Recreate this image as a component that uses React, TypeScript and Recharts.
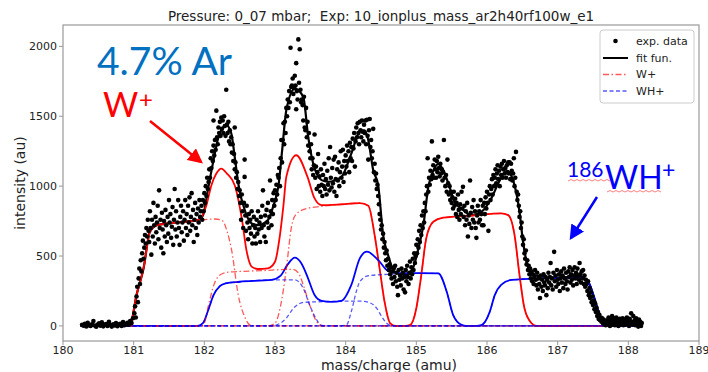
import React from "react";
import {
    ComposedChart, Line, Scatter, XAxis, YAxis,
} from "recharts";

// ---- axis ticks ----
const xTicks = [180, 181, 182, 183, 184, 185, 186, 187, 188, 189];
const yTicks = [0, 500, 1000, 1500, 2000];

// ---- exp. data ([mass, intensity]) ----
const expBaseline = [
    [180.27, 8], [180.29, 2], [180.31, 15], [180.33, -4], [180.35, 22], [180.37, 5], [180.39, 0], [180.41, 12],
    [180.43, 35], [180.45, 3], [180.47, -6], [180.49, 10], [180.51, 18], [180.53, 2], [180.55, 25], [180.57, -3],
    [180.59, 8], [180.61, 14], [180.63, 0], [180.65, 30], [180.67, 6], [180.69, -5], [180.71, 12], [180.73, 3],
    [180.75, 20], [180.77, -2], [180.79, 9], [180.81, 15], [180.83, 0], [180.85, 28], [180.87, 5], [180.89, 12],
    [180.91, 22], [180.93, 8], [180.95, 35], [180.97, 20], [180.99, 55],
];
const expRise = [
    [181.01, 90], [181.02, 140], [181.03, 60], [181.04, 210], [181.05, 280], [181.06, 170], [181.07, 340],
    [181.08, 410], [181.09, 300], [181.1, 470], [181.11, 390], [181.12, 520], [181.13, 610], [181.14, 480],
    [181.15, 560], [181.16, 650], [181.17, 590], [181.18, 700], [181.19, 640], [181.2, 760], [181.21, 680],
];
const expPlateau = [
    [181.22, 600], [181.23, 820], [181.24, 700], [181.25, 510], [181.26, 760], [181.27, 640], [181.28, 880],
    [181.29, 720], [181.3, 590], [181.31, 780], [181.32, 670], [181.33, 740], [181.34, 860], [181.35, 620],
    [181.36, 970], [181.37, 700], [181.38, 760], [181.39, 560], [181.4, 810], [181.41, 690], [181.42, 520],
    [181.43, 750], [181.44, 640], [181.45, 830], [181.46, 720], [181.47, 600], [181.48, 780], [181.49, 660],
    [181.5, 900], [181.51, 740], [181.52, 800], [181.53, 630], [181.54, 710], [181.55, 850], [181.56, 580],
    [181.57, 760], [181.58, 980], [181.59, 690], [181.6, 820], [181.61, 640], [181.62, 740], [181.63, 900],
    [181.64, 700], [181.65, 580], [181.66, 780], [181.67, 860], [181.68, 670], [181.69, 740], [181.7, 820],
    [181.71, 610], [181.72, 760], [181.73, 900], [181.74, 700], [181.75, 800], [181.76, 650], [181.77, 860],
    [181.78, 740], [181.79, 920], [181.8, 680], [181.81, 780], [181.82, 950], [181.83, 720], [181.84, 830],
    [181.85, 600], [181.86, 760], [181.87, 880], [181.88, 700], [181.89, 800], [181.9, 650], [181.91, 840],
    [181.92, 740], [181.93, 900], [181.94, 780], [181.95, 820],
];
const expPeak182 = [
    [181.96, 860], [181.97, 760], [181.98, 900], [181.99, 820], [182.0, 950], [182.01, 880], [182.02, 1000],
    [182.03, 930], [182.04, 1060], [182.05, 980], [182.06, 1030], [182.07, 1120], [182.08, 1060], [182.09, 1200],
    [182.1, 1130], [182.11, 1250], [182.12, 1180], [182.13, 1290], [182.13, 1470], [182.14, 1220], [182.15, 1330],
    [182.16, 1260], [182.17, 1540], [182.18, 1350], [182.19, 1300], [182.2, 1420], [182.21, 1380], [182.22, 1460],
    [182.23, 1360], [182.24, 1490], [182.25, 1410], [182.26, 1470], [182.27, 1380], [182.28, 1500], [182.29, 1430],
    [182.3, 1360], [182.31, 1690], [182.32, 1440], [182.33, 1380], [182.34, 1460], [182.35, 1320], [182.36, 1400],
    [182.37, 1300], [182.38, 1350], [182.39, 1240], [182.4, 1300], [182.41, 1180], [182.42, 1230], [182.43, 1420],
    [182.43, 1120], [182.44, 1170], [182.45, 1060], [182.46, 1100], [182.47, 980], [182.48, 1030], [182.49, 930],
    [182.5, 970],
];
const expValley1 = [
    [182.51, 880], [182.52, 760], [182.53, 940], [182.54, 820], [182.55, 700], [182.56, 880], [182.57, 1190],
    [182.57, 1066], [182.58, 790], [182.59, 680], [182.6, 860], [182.61, 740], [182.62, 620], [182.63, 800],
    [182.64, 700], [182.65, 760], [182.66, 660], [182.67, 820], [182.68, 590], [182.69, 720], [182.7, 780],
    [182.71, 640], [182.72, 700], [182.73, 590], [182.74, 760], [182.75, 660], [182.76, 820], [182.77, 690],
    [182.78, 740], [182.79, 600], [182.8, 780], [182.81, 700], [182.82, 860], [182.83, 970], [182.84, 720],
    [182.85, 640], [182.86, 790], [182.87, 600], [182.88, 830], [182.89, 740], [182.9, 880], [182.91, 700],
    [182.92, 780], [182.93, 1040], [182.94, 820], [182.95, 720], [182.96, 900], [182.97, 800], [182.98, 950],
    [182.99, 860], [183.0, 970], [183.01, 900], [183.02, 1010], [183.03, 940], [183.04, 1080],
];
const expPeak183 = [
    [183.05, 1060], [183.06, 1130], [183.07, 1000], [183.08, 1200], [183.09, 1330], [183.1, 1170], [183.11, 1330],
    [183.12, 1450], [183.13, 1300], [183.14, 1460], [183.15, 1380], [183.16, 1560], [183.17, 1500], [183.18, 1620],
    [183.19, 1560], [183.2, 1680], [183.21, 1600], [183.22, 1990], [183.23, 1710], [183.24, 1720], [183.25, 1770],
    [183.26, 1660], [183.27, 1700], [183.28, 1790], [183.29, 1720], [183.3, 1880], [183.3, 1550], [183.31, 1680],
    [183.32, 1620], [183.33, 2050], [183.34, 1740], [183.35, 1980], [183.36, 1690], [183.37, 1600], [183.38, 1620],
    [183.39, 1580], [183.4, 1470], [183.41, 1640], [183.42, 1420], [183.43, 1400], [183.44, 1560], [183.45, 1350],
    [183.46, 1460], [183.47, 1290], [183.48, 1380], [183.49, 1250], [183.5, 1200], [183.51, 1300], [183.52, 1120],
    [183.53, 1200], [183.54, 1080], [183.55, 1150],
];
const expValley2 = [
    [183.56, 1370], [183.57, 1060], [183.58, 1140], [183.59, 980], [183.6, 1100], [183.61, 1230], [183.62, 1000],
    [183.63, 1070], [183.64, 960], [183.65, 1120], [183.66, 1010], [183.67, 930], [183.68, 1080], [183.69, 1000],
    [183.7, 1160], [183.71, 980], [183.72, 1050], [183.73, 940], [183.74, 1110], [183.75, 1010], [183.76, 1200],
    [183.77, 970], [183.78, 1280], [183.79, 1060], [183.8, 990], [183.81, 1130], [183.82, 1020], [183.83, 1190],
    [183.84, 960], [183.85, 1210], [183.86, 1050], [183.87, 930], [183.88, 1120], [183.89, 1040], [183.9, 1170],
    [183.91, 1000], [183.92, 1100], [183.93, 1250], [183.94, 1060], [183.95, 1140], [183.96, 1260], [183.97, 1030],
    [183.98, 1180], [183.99, 1090], [184.0, 1220], [184.01, 1140], [184.02, 1290], [184.03, 1180], [184.04, 1250],
    [184.05, 1100], [184.06, 1310], [184.07, 1200], [184.08, 1280], [184.09, 1180], [184.1, 1340],
];
const expPeak184 = [
    [184.11, 1270], [184.12, 1380], [184.13, 1140], [184.14, 1320], [184.15, 1420], [184.16, 1350], [184.17, 1450],
    [184.18, 1380], [184.19, 1300], [184.2, 1460], [184.21, 1400], [184.22, 1350], [184.23, 1470], [184.24, 1390],
    [184.25, 1320], [184.26, 1440], [184.27, 1380], [184.28, 1470], [184.29, 1300], [184.3, 1475], [184.31, 1360],
    [184.32, 1190], [184.33, 1400], [184.34, 1480], [184.35, 1280], [184.36, 1330], [184.37, 1200], [184.38, 1250],
    [184.39, 1410], [184.4, 1100], [184.41, 1160], [184.42, 1040], [184.43, 1090], [184.44, 980], [184.45, 1010],
];
const expValley3 = [
    [184.46, 930], [184.47, 870], [184.48, 800], [184.49, 760], [184.5, 690], [184.51, 720], [184.52, 620],
    [184.53, 660], [184.54, 560], [184.55, 600], [184.56, 520], [184.57, 470], [184.58, 540], [184.59, 430],
    [184.6, 480], [184.61, 400], [184.62, 440], [184.63, 370], [184.64, 420], [184.65, 340], [184.66, 390],
    [184.67, 300], [184.68, 410], [184.69, 350], [184.7, 430], [184.71, 320], [184.72, 380], [184.73, 280],
    [184.74, 220], [184.75, 400], [184.76, 330], [184.77, 360], [184.78, 290], [184.79, 410], [184.8, 340],
    [184.81, 380], [184.82, 260], [184.83, 350], [184.84, 240], [184.85, 400], [184.86, 320], [184.87, 430],
    [184.88, 350], [184.89, 300], [184.9, 380], [184.91, 460], [184.92, 340], [184.93, 420], [184.94, 370],
    [184.95, 480], [184.96, 400], [184.97, 520], [184.98, 450], [184.99, 500],
];
const expPeak185 = [
    [185.0, 580], [185.01, 520], [185.02, 620], [185.03, 560], [185.04, 680], [185.05, 600], [185.06, 720],
    [185.07, 650], [185.08, 790], [185.09, 700], [185.1, 820], [185.11, 740], [185.12, 880], [185.13, 820],
    [185.14, 940], [185.15, 1000], [185.16, 1200], [185.17, 960], [185.18, 1060], [185.19, 1010], [185.2, 1110],
    [185.21, 1050], [185.22, 1320], [185.23, 1080], [185.24, 1150], [185.25, 1060], [185.26, 1190], [185.27, 1120],
    [185.28, 1060], [185.29, 1180], [185.3, 1100], [185.31, 1210], [185.32, 1130], [185.33, 1070], [185.34, 1160],
    [185.35, 1090], [185.36, 1120], [185.37, 1040], [185.38, 1100], [185.39, 1330], [185.4, 1060], [185.41, 1000],
    [185.42, 1080], [185.43, 960], [185.44, 1190], [185.45, 1020], [185.46, 940], [185.47, 1000], [185.48, 900],
    [185.49, 960], [185.5, 880],
];
const expValley4 = [
    [185.51, 920], [185.52, 840], [185.53, 960], [185.54, 860], [185.55, 910], [185.56, 800], [185.57, 880],
    [185.58, 780], [185.59, 940], [185.6, 830], [185.61, 760], [185.62, 870], [185.63, 800], [185.64, 960],
    [185.65, 840], [185.66, 995], [185.67, 780], [185.68, 860], [185.69, 720], [185.7, 820], [185.71, 760],
    [185.72, 880], [185.73, 640], [185.74, 790], [185.75, 730], [185.76, 1040], [185.77, 810], [185.78, 700],
    [185.79, 850], [185.8, 760], [185.81, 900], [185.82, 740], [185.83, 820], [185.84, 700], [185.85, 630],
    [185.86, 790], [185.87, 860], [185.88, 740], [185.89, 820], [185.9, 760], [185.91, 900], [185.92, 800],
    [185.93, 720], [185.94, 860], [185.95, 720], [185.96, 880], [185.97, 800], [185.98, 920], [185.99, 840],
    [186.0, 960], [186.01, 880], [186.02, 680], [186.03, 940], [186.04, 1000], [186.05, 900], [186.06, 980],
    [186.07, 1050], [186.08, 940], [186.09, 1080], [186.1, 1000],
];
const expPeak186 = [
    [186.11, 1060], [186.12, 1120], [186.13, 1020], [186.14, 1090], [186.15, 1150], [186.16, 1050], [186.17, 1110],
    [186.18, 1000], [186.19, 1140], [186.2, 1080], [186.21, 1160], [186.22, 1060], [186.23, 1120], [186.24, 1180],
    [186.25, 1090], [186.26, 1130], [186.27, 1060], [186.28, 1150], [186.29, 1100], [186.3, 1170], [186.31, 1090],
    [186.32, 1170], [186.33, 1050], [186.34, 1160], [186.35, 1110], [186.36, 1040], [186.37, 1090], [186.38, 1200],
    [186.39, 1000], [186.4, 1060], [186.41, 1245], [186.42, 960], [186.43, 900], [186.44, 940],
    [186.45, 860], [186.46, 780], [186.47, 820], [186.48, 700], [186.49, 740], [186.5, 640], [186.51, 580],
    [186.52, 620], [186.53, 520], [186.54, 480], [186.55, 540], [186.56, 440], [186.57, 470], [186.58, 400],
    [186.59, 430], [186.6, 370], [186.61, 410], [186.62, 340], [186.63, 390], [186.64, 320], [186.65, 370],
    [186.66, 300], [186.67, 350], [186.68, 400], [186.69, 330], [186.7, 290],
];
const expWH186 = [
    [186.71, 380], [186.72, 260], [186.73, 340], [186.74, 300], [186.75, 200], [186.76, 360], [186.77, 280],
    [186.78, 330], [186.79, 250], [186.8, 370], [186.81, 310], [186.82, 290], [186.83, 350], [186.84, 220],
    [186.85, 330], [186.86, 270], [186.87, 380], [186.88, 310], [186.89, 350], [186.9, 450], [186.91, 290],
    [186.92, 340], [186.93, 260], [186.94, 380], [186.95, 530], [186.96, 320], [186.97, 360], [186.98, 280],
    [186.99, 400], [187.0, 330], [187.01, 300], [187.02, 370], [187.03, 250], [187.04, 340], [187.05, 390],
    [187.06, 310], [187.07, 360], [187.08, 270], [187.09, 410], [187.1, 340], [187.11, 300], [187.12, 380],
    [187.13, 320], [187.14, 260], [187.15, 390], [187.16, 350], [187.17, 420], [187.18, 310], [187.19, 370],
    [187.2, 330], [187.21, 400], [187.22, 290], [187.23, 360], [187.24, 420], [187.25, 340], [187.26, 380],
    [187.27, 300], [187.28, 410], [187.29, 360], [187.3, 330], [187.31, 450], [187.32, 370], [187.33, 310],
    [187.34, 390], [187.35, 340], [187.36, 400], [187.37, 300], [187.38, 360], [187.39, 280], [187.4, 330],
    [187.41, 300], [187.42, 250], [187.43, 320], [187.44, 220], [187.45, 270], [187.46, 200], [187.47, 240],
    [187.48, 170], [187.49, 210], [187.5, 150], [187.51, 180], [187.52, 120], [187.53, 160], [187.54, 100],
    [187.55, 130], [187.56, 70], [187.57, 100], [187.58, 50], [187.59, 80], [187.6, 40], [187.61, 60],
    [187.62, 30], [187.63, 55], [187.64, 20], [187.65, 45], [187.66, 10], [187.67, 35], [187.68, 5], [187.69, 25],
];
const expTail = [
    [187.7, 40], [187.71, 15], [187.72, 60], [187.73, 25], [187.74, 0], [187.75, 45], [187.76, 20], [187.77, 70],
    [187.78, 10], [187.79, 35], [187.8, 55], [187.81, 5], [187.82, 30], [187.83, 60], [187.84, 15], [187.85, 40],
    [187.86, 0], [187.87, 25], [187.88, 50], [187.89, 10], [187.9, 35], [187.91, 20], [187.92, 55], [187.93, 5],
    [187.94, 30], [187.95, 45], [187.96, 10], [187.97, 25], [187.98, 60], [187.99, 15], [188.0, 35], [188.01, 0],
    [188.02, 50], [188.03, 20], [188.04, 90], [188.05, 30], [188.06, 10], [188.07, 70], [188.08, 25], [188.09, 40],
    [188.1, 5], [188.11, 55], [188.12, 20], [188.13, 35], [188.14, -5], [188.15, 45], [188.16, 15], [188.17, 30],
    [188.18, 0], [188.19, 20],
];

// ---- fit curves (key points) ----
const fitFun = [
    [180.25, 0], [180.9, 0], [180.95, 5], [181.04, 220], [181.14, 412], [181.23, 673], [181.33, 721], [181.6, 740],
    [181.91, 757], [181.98, 790], [182.06, 1000], [182.13, 1186], [182.2, 1350], [182.31, 1436], [182.38, 1380],
    [182.43, 1210], [182.48, 1019], [182.58, 816], [182.67, 733], [182.76, 721], [182.9, 757], [182.98, 864],
    [183.05, 1007], [183.1, 1250], [183.16, 1543], [183.28, 1698], [183.4, 1638], [183.47, 1352], [183.54, 1162],
    [183.66, 1043], [183.75, 1031], [183.94, 1066], [184.08, 1233], [184.2, 1390], [184.27, 1400], [184.32, 1329],
    [184.39, 1114], [184.46, 1007], [184.53, 650], [184.6, 507], [184.69, 388], [184.84, 364], [184.95, 412],
    [185.03, 555], [185.1, 721], [185.17, 995], [185.24, 1110], [185.31, 1160], [185.38, 1114], [185.47, 995],
    [185.55, 876], [185.64, 840], [185.78, 793], [185.92, 816], [186.06, 912], [186.18, 1040], [186.28, 1110],
    [186.34, 1080], [186.39, 1007], [186.46, 816], [186.51, 602], [186.56, 459], [186.61, 388], [186.7, 359],
    [187.0, 345], [187.29, 352], [187.43, 316], [187.52, 198], [187.6, 67], [187.67, 5], [187.75, 0], [188.2, 0],
];
const wTotal = [
    [180.25, 0], [180.9, 0], [180.95, 5], [181.04, 220], [181.14, 412], [181.23, 673], [181.33, 721], [181.6, 740],
    [181.91, 757], [182.03, 864], [182.1, 1007], [182.17, 1090], [182.24, 1126], [182.32, 1090], [182.43, 1007],
    [182.53, 769], [182.6, 531], [182.67, 424], [182.76, 407], [182.9, 412], [183.0, 459], [183.07, 650],
    [183.12, 864], [183.16, 1066], [183.3, 1221], [183.46, 1066], [183.56, 912], [183.66, 864], [183.9, 868],
    [184.2, 878], [184.32, 860], [184.41, 650], [184.48, 412], [184.55, 174], [184.63, 19], [184.7, 0],
    [184.85, 0], [184.91, 5], [185.0, 126], [185.07, 364], [185.14, 626], [185.24, 745], [185.38, 774],
    [185.8, 790], [186.2, 805], [186.3, 793], [186.39, 650], [186.46, 364], [186.53, 126], [186.63, 19],
    [186.7, 0], [188.2, 0],
];
const whTotal = [
    [180.25, 0], [181.9, 0], [181.98, 20], [182.06, 120], [182.13, 220], [182.22, 285], [182.3, 305], [182.5, 316],
    [182.95, 329], [183.08, 360], [183.18, 440], [183.28, 488], [183.37, 450], [183.45, 364], [183.56, 221],
    [183.66, 179], [183.8, 172], [183.94, 179], [184.08, 293], [184.2, 483], [184.3, 531], [184.46, 471],
    [184.6, 393], [184.75, 378], [185.31, 376], [185.43, 245], [185.52, 79], [185.64, 7], [185.7, 0], [185.85, 0],
    [185.92, 5], [186.04, 102], [186.11, 220], [186.2, 293], [186.35, 329], [186.8, 340], [187.29, 345],
    [187.43, 316], [187.52, 198], [187.6, 67], [187.67, 5], [187.75, 0], [188.2, 0],
];
// W+ isotope components
const w182 = [
    [180.25, 0], [180.9, 0], [180.95, 5], [181.04, 220], [181.14, 412], [181.23, 673], [181.33, 721], [181.6, 740],
    [181.91, 757], [182.15, 765], [182.25, 755], [182.32, 680], [182.39, 531], [182.48, 221], [182.58, 55],
    [182.65, 5], [182.75, 0], [188.2, 0],
];
const w183 = [
    [180.25, 0], [181.95, 0], [182.0, 20], [182.06, 150], [182.14, 300], [182.22, 364], [182.35, 385], [182.8, 395],
    [183.25, 405], [183.33, 380], [183.4, 293], [183.49, 150], [183.59, 31], [183.66, 3], [183.75, 0], [188.2, 0],
];
const w184 = [
    [180.25, 0], [182.9, 0], [183.0, 20], [183.1, 200], [183.17, 450], [183.23, 700], [183.3, 800], [183.45, 840],
    [183.66, 855], [184.2, 878], [184.32, 860], [184.41, 650], [184.48, 412], [184.55, 174], [184.63, 19],
    [184.7, 0], [188.2, 0],
];
const w186 = [
    [180.25, 0], [184.85, 0], [184.91, 5], [185.0, 126], [185.07, 364], [185.14, 626], [185.24, 745], [185.38, 774],
    [185.8, 790], [186.2, 805], [186.3, 793], [186.39, 650], [186.46, 364], [186.53, 126], [186.63, 19],
    [186.7, 0], [188.2, 0],
];
// WH+ components
const wh182 = [
    [180.25, 0], [181.9, 0], [181.98, 20], [182.06, 120], [182.13, 220], [182.22, 285], [182.3, 305], [182.5, 316],
    [182.95, 329], [183.28, 329], [183.4, 269], [183.49, 150], [183.59, 43], [183.66, 3], [183.75, 0], [188.2, 0],
];
const wh183 = [
    [180.25, 0], [182.9, 0], [183.0, 5], [183.16, 55], [183.26, 126], [183.42, 169], [183.71, 174], [184.2, 178],
    [184.32, 169], [184.44, 126], [184.51, 67], [184.58, 19], [184.65, 2], [184.75, 0], [188.2, 0],
];
const wh184 = [
    [180.25, 0], [183.9, 0], [184.01, 7], [184.08, 102], [184.15, 245], [184.2, 316], [184.32, 359], [184.6, 369],
    [184.9, 375], [185.31, 376], [185.43, 245], [185.52, 79], [185.64, 7], [185.7, 0], [188.2, 0],
];
const wh186 = [
    [180.25, 0], [185.85, 0], [185.92, 5], [186.04, 102], [186.11, 220], [186.2, 293], [186.35, 329], [186.8, 340],
    [187.29, 345], [187.43, 316], [187.52, 198], [187.6, 67], [187.67, 5], [187.75, 0], [188.2, 0],
];

const toPts = (arr: number[][]) => arr.map(([x, y]) => ({ x, y }));

const expData = toPts([
    ...expBaseline, ...expRise, ...expPlateau, ...expPeak182, ...expValley1, ...expPeak183,
    ...expValley2, ...expPeak184, ...expValley3, ...expPeak185, ...expValley4, ...expPeak186,
    ...expWH186, ...expTail,
]);

const FONT = "DejaVu Sans, sans-serif";
const PPT = "Lato, Open Sans, sans-serif";
const RED_DASH = "6 2.5 1.5 2.5";
const BLUE_DASH = "4 2.5";

const Dot = (props: any) => {
    if (props.cx == null || props.cy == null) return null;
    return <circle cx={props.cx} cy={props.cy} r={2.3} fill="#000" />;
};

const Overlay = () => (
    <svg width={708} height={372} style={{ position: "absolute", left: 0, top: 0, pointerEvents: "none" }}>
        <defs>
            <marker id="headRed" markerWidth="6" markerHeight="6" refX="5" refY="3" orient="auto" markerUnits="strokeWidth">
                <path d="M0,0 L6,3 L0,6 z" fill="#ff0000" />
            </marker>
            <marker id="headBlue" markerWidth="6" markerHeight="6" refX="5" refY="3" orient="auto" markerUnits="strokeWidth">
                <path d="M0,0 L6,3 L0,6 z" fill="#0000ff" />
            </marker>
        </defs>
        {/* axes frame */}
        <rect x={63} y={25} width={636} height={316} fill="none" stroke="#999" strokeWidth={1.2} />
        {/* title + labels */}
        <text x={381} y={21} textAnchor="middle" fontSize={13.5} fontFamily={FONT} fill="#222">
            {"Pressure: 0_07 mbar;\u00a0 Exp: 10_ionplus_mass_ar2h40rf100w_e1"}
        </text>
        <text x={389} y={370} textAnchor="middle" fontSize={14} fontFamily={FONT} fill="#222">mass/charge (amu)</text>
        <text x={25} y={183} textAnchor="middle" fontSize={14} fontFamily={FONT} fill="#222"
            transform="rotate(-90 25 183)">intensity (au)</text>
        {/* legend */}
        <rect x={600} y={30} width={94} height={73} rx={3} fill="#fff" fillOpacity={0.85} stroke="#ccc" />
        <circle cx={615.5} cy={41} r={2.3} fill="#000" />
        <line x1={603} y1={58} x2={628} y2={58} stroke="#000" strokeWidth={2} />
        <line x1={603} y1={74.5} x2={628} y2={74.5} stroke="#ff0000" strokeOpacity={0.65} strokeWidth={1.4} strokeDasharray={RED_DASH} />
        <line x1={603} y1={91} x2={628} y2={91} stroke="#0000ff" strokeOpacity={0.65} strokeWidth={1.4} strokeDasharray={BLUE_DASH} />
        <g fontSize={11} fontFamily={FONT} fill="#222">
            <text x={636} y={45}>exp. data</text>
            <text x={636} y={62}>fit fun.</text>
            <text x={636} y={78}>W+</text>
            <text x={636} y={95}>WH+</text>
        </g>
        {/* annotations */}
        <text x={97} y={75} fontSize={39} fontFamily={PPT} fill="#0070c0">4.7% Ar</text>
        <text x={103} y={117} fontSize={34} fontFamily={PPT} fill="#ff0000">W</text>
        <text x={139} y={108} fontSize={24} fontFamily={PPT} fill="#ff0000">+</text>
        <line x1={150} y1={121} x2={201} y2={162} stroke="#ff0000" strokeWidth={2.5} markerEnd="url(#headRed)" />
        <text x={567} y={177} fontSize={21} fontFamily={PPT} fill="#0000ff">186</text>
        <text x={605} y={189} fontSize={32} fontFamily={PPT} fill="#0000ff">WH</text>
        <text x={662} y={178} fontSize={23} fontFamily={PPT} fill="#0000ff">+</text>
        <polyline points="568,181 571,179.5 574,181 577,179.5 580,181 583,179.5 586,181 589,179.5 592,181 595,179.5 598,181 601,179.5 604,181 607,179.5 610,181"
            fill="none" stroke="#ff6060" strokeWidth={0.8} />
        <polyline points="607,192 610,190.5 613,192 616,190.5 619,192 622,190.5 625,192 628,190.5 631,192 634,190.5 637,192 640,190.5 643,192 646,190.5 649,192 652,190.5 655,192 658,190.5 661,192"
            fill="none" stroke="#ff6060" strokeWidth={0.8} />
        <line x1={597} y1={197} x2={571} y2={238} stroke="#0000ff" strokeWidth={2.5} markerEnd="url(#headBlue)" />
    </svg>
);

export default function App() {
    const lineCommon = { type: "monotone" as const, dataKey: "y", dot: false, activeDot: false, isAnimationActive: false };
    return (
        <div style={{ position: "absolute", left: 0, top: 0, width: 708, height: 372, background: "#fff", fontFamily: FONT }}>
            <ComposedChart width={708} height={372} margin={{ top: 25, right: 9, bottom: 0, left: 8 }}>
                <XAxis type="number" dataKey="x" domain={[180, 189]} ticks={xTicks} allowDataOverflow interval={0}
                    height={31} tickSize={4} tickMargin={1} axisLine={false} tickLine={{ stroke: "#999" }}
                    tick={{ fontSize: 11, fill: "#222", fontFamily: FONT }} />
                <YAxis type="number" dataKey="y" domain={[-108, 2153]} ticks={yTicks} allowDataOverflow interval={0}
                    width={55} tickSize={4} tickMargin={2} axisLine={false} tickLine={{ stroke: "#999" }}
                    tick={{ fontSize: 11, fill: "#222", fontFamily: FONT }} />
                <Scatter name="exp. data" data={expData} shape={Dot} isAnimationActive={false} />
                <Line {...lineCommon} data={toPts(fitFun)} name="fit fun." stroke="#000" strokeWidth={2.2} />
                <Line {...lineCommon} data={toPts(wTotal)} name="W total" stroke="#ff0000" strokeWidth={1.8} />
                <Line {...lineCommon} data={toPts(whTotal)} name="WH total" stroke="#0000ff" strokeWidth={1.8} />
                <Line {...lineCommon} data={toPts(w182)} name="W+" stroke="#ff0000" strokeOpacity={0.65} strokeWidth={1.3} strokeDasharray={RED_DASH} />
                <Line {...lineCommon} data={toPts(w183)} name="W+ 183" stroke="#ff0000" strokeOpacity={0.65} strokeWidth={1.3} strokeDasharray={RED_DASH} />
                <Line {...lineCommon} data={toPts(w184)} name="W+ 184" stroke="#ff0000" strokeOpacity={0.65} strokeWidth={1.3} strokeDasharray={RED_DASH} />
                <Line {...lineCommon} data={toPts(w186)} name="W+ 186" stroke="#ff0000" strokeOpacity={0.65} strokeWidth={1.3} strokeDasharray={RED_DASH} />
                <Line {...lineCommon} data={toPts(wh182)} name="WH+" stroke="#0000ff" strokeOpacity={0.65} strokeWidth={1.3} strokeDasharray={BLUE_DASH} />
                <Line {...lineCommon} data={toPts(wh183)} name="WH+ 183" stroke="#0000ff" strokeOpacity={0.65} strokeWidth={1.3} strokeDasharray={BLUE_DASH} />
                <Line {...lineCommon} data={toPts(wh184)} name="WH+ 184" stroke="#0000ff" strokeOpacity={0.65} strokeWidth={1.3} strokeDasharray={BLUE_DASH} />
                <Line {...lineCommon} data={toPts(wh186)} name="WH+ 186" stroke="#0000ff" strokeOpacity={0.65} strokeWidth={1.3} strokeDasharray={BLUE_DASH} />
            </ComposedChart>
            <Overlay />
        </div>
    );
}
